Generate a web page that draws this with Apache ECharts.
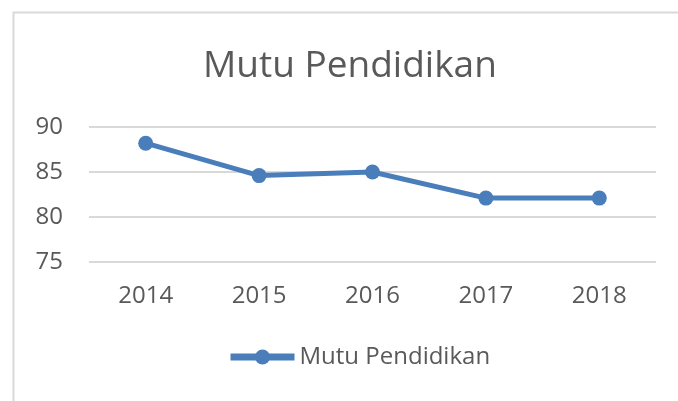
<!DOCTYPE html>
<html><head><meta charset="utf-8">
<script src="https://cdn.jsdelivr.net/npm/echarts@6/dist/echarts.min.js"></script>
<style>html,body{margin:0;padding:0;background:#fff}#c{width:678px;height:401px}</style>
</head><body><div id="c"></div>
<script>
const categories = ['2014','2015','2016','2017','2018'];
const values = [88.2, 84.6, 85.0, 82.1, 82.1];
const seriesName = 'Mutu Pendidikan';
const titleText = 'Mutu Pendidikan';
const yMin = 75, yMax = 90, yStep = 5;

const chart = echarts.init(document.getElementById('c'));
const font = '"Open Sans", "Noto Sans", sans-serif';
chart.setOption({
  animation: false,
  backgroundColor: '#fff',
  graphic: [{type:'rect', shape:{x:13.5,y:12.5,width:700,height:420}, style:{fill:'none', stroke:'#d9d9d9', lineWidth:2}}],
  title: {text: titleText, left: 198, top: 43, textStyle:{fontFamily: font, fontSize: 37, fontWeight:'normal', color:'#595959'}},
  grid: {left: 89, right: 22, top: 127, bottom: 139},
  legend: {top: 340, left: 222, itemWidth: 64, itemHeight: 19, itemGap: 4,
    lineStyle: {width: 7},
    textStyle:{fontFamily: font, fontSize: 24, color:'#595959'},
    data:[{name: seriesName}]},
  xAxis: {type:'category', data: categories, boundaryGap: true,
    axisLine:{show:false}, axisTick:{show:false},
    axisLabel:{fontFamily: font, fontSize: 24, color:'#595959', margin: 22}},
  yAxis: {type:'value', min: yMin, max: yMax, interval: yStep,
    axisLine:{show:false}, axisTick:{show:false},
    axisLabel:{fontFamily: font, fontSize: 24, color:'#595959', margin: 26},
    splitLine:{lineStyle:{color:'#d9d9d9', width: 2}}},
  series: [{name: seriesName, type:'line', data: values, symbol:'circle', symbolSize: 15,
    itemStyle:{color:'#4a7ebb'}, lineStyle:{color:'#4a7ebb', width: 5}}]
});
</script></body></html>
